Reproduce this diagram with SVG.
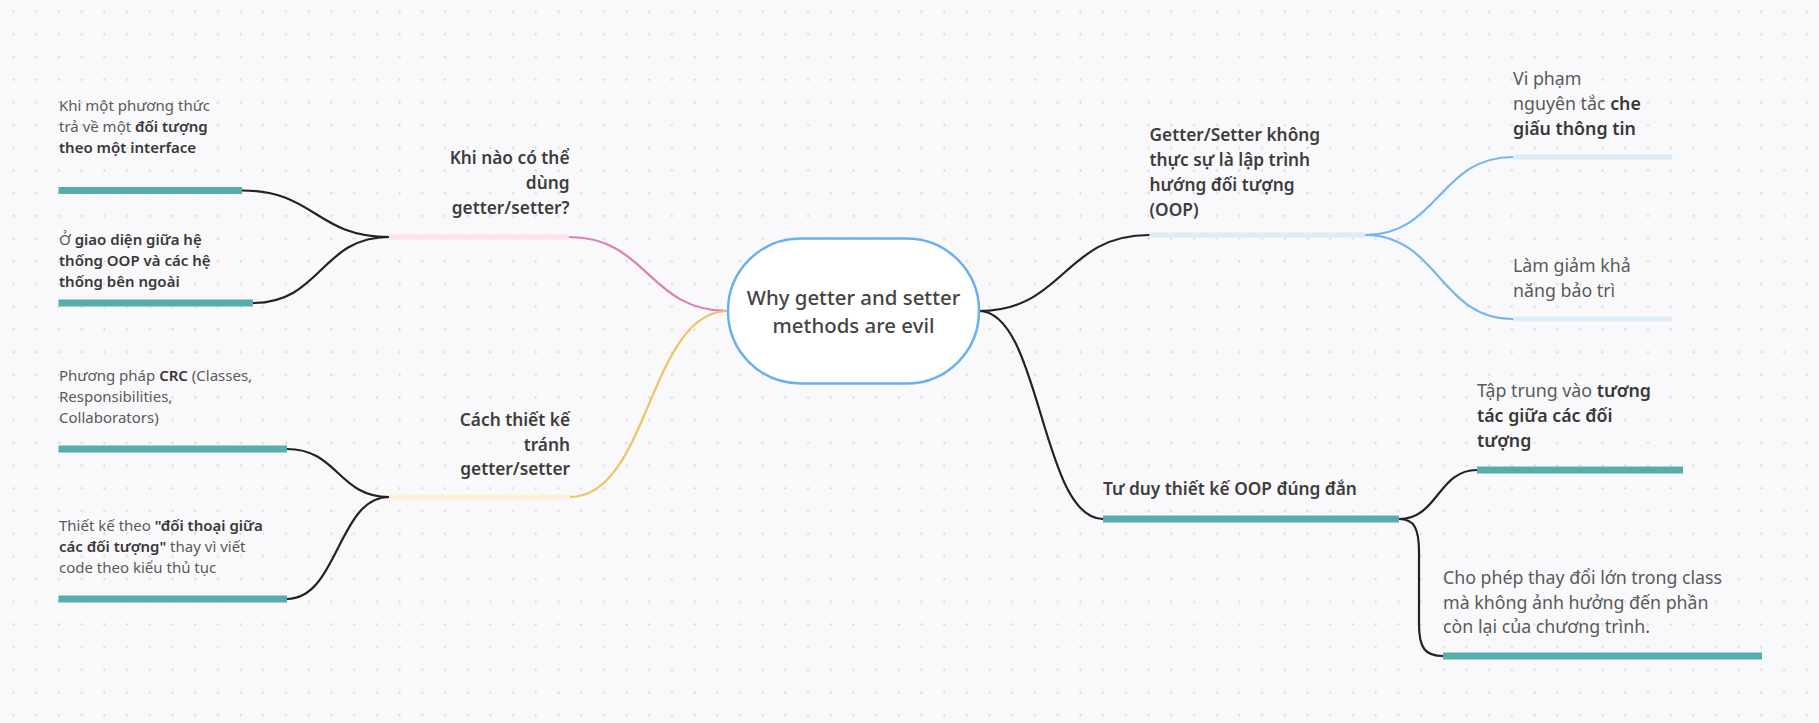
<svg xmlns="http://www.w3.org/2000/svg" width="1819" height="723" viewBox="0 0 1819 723">
<defs>
<pattern id="dots" x="2.25" y="0.25" width="22.7" height="22.7" patternUnits="userSpaceOnUse">
<circle cx="11.35" cy="11.35" r="1.15" fill="#d8d8dd"/>
</pattern>
<style>
text{font-family:"Noto Sans","Open Sans","DejaVu Sans",sans-serif;}
.title{font-size:17.3px;font-weight:600;fill:#3d3d3d;}
.body{font-size:15px;fill:#5a5a5a;}
.bodyR{font-size:17.8px;fill:#5a5a5a;}
.b{font-weight:600;fill:#383838;}
.center{font-size:20.4px;font-weight:500;fill:#444;}
.bar{stroke-width:7;fill:none;}
.teal{stroke:#57adad;}
.pinkbar{stroke:#fbe2eb;stroke-width:5;}
.yellowbar{stroke:#fdf0d9;stroke-width:5;}
.bluebar{stroke:#deecfa;stroke-width:5;}
.conn{fill:none;stroke-width:2.2;stroke-linecap:round;}
.k{stroke:#222;}
.pink{stroke:#dd80b9;}
.yellow{stroke:#efc35f;}
.blue{stroke:#75b6ec;}
</style>
</defs>
<rect width="1819" height="723" fill="#f9f9fb"/>
<rect width="1819" height="723" fill="url(#dots)"/>

<g id="connectors">
<path class="conn k" d="M242,190.5 C315,190.5 316,237 389,237"/>
<path class="conn k" d="M253,303 C321,303 321,237 389,237"/>
<path class="conn k" d="M287,449 C338,449 338,497 389,497"/>
<path class="conn k" d="M287,599 C338,599 338,497 389,497"/>
<path class="conn pink" d="M569,237 C648,237 648,311 728,311"/>
<path class="conn yellow" d="M570,497 C649,497 649,311 728,311"/>
<path class="conn k" d="M979,311 C1064,311 1064,235 1149,235"/>
<path class="conn k" d="M979,311 C1041,311 1041,519 1103,519"/>
<path class="conn blue" d="M1365,235 C1439,235 1439,157 1513,157"/>
<path class="conn blue" d="M1365,235 C1439,235 1439,319 1513,319"/>
<path class="conn k" d="M1399,519 C1438,519 1438,470 1477,470"/>
<path class="conn k" d="M1399,519 C1414,519 1419,528 1419,552 L1419,624 C1419,648 1425,656 1443,656"/>
</g>

<g id="root">
<rect x="728" y="238.5" width="251" height="145" rx="72.5" ry="72.5" fill="#fff" stroke="#6bb0ec" stroke-width="2.5"/>
<text class="center" text-anchor="middle"><tspan x="853.5" y="305">Why getter and setter</tspan><tspan x="853.5" y="333">methods are evil</tspan></text>
</g>

<g id="node-khi-nao">
<line class="bar pinkbar" x1="389" y1="237" x2="569" y2="237"/>
<text class="title" text-anchor="end"><tspan x="569.5" y="164">Khi nào có thể</tspan><tspan x="569.5" y="189">dùng</tspan><tspan x="569.5" y="214">getter/setter?</tspan></text>
</g>

<g id="node-tra-ve">
<line class="bar teal" x1="58.5" y1="190.5" x2="242" y2="190.5"/>
<text class="body"><tspan x="59" y="111">Khi một phương thức</tspan><tspan x="59" y="132">trả về một <tspan class="b">đối tượng</tspan></tspan><tspan x="59" y="153" class="b">theo một interface</tspan></text>
</g>

<g id="node-giao-dien">
<line class="bar teal" x1="58.5" y1="303" x2="253" y2="303"/>
<text class="body"><tspan x="59" y="245">Ở <tspan class="b">giao diện giữa hệ</tspan></tspan><tspan x="59" y="266" class="b">thống OOP và các hệ</tspan><tspan x="59" y="287" class="b">thống bên ngoài</tspan></text>
</g>

<g id="node-cach-thiet-ke">
<line class="bar yellowbar" x1="389" y1="497" x2="570" y2="497"/>
<text class="title" text-anchor="end"><tspan x="570" y="426">Cách thiết kế</tspan><tspan x="570" y="450.5">tránh</tspan><tspan x="570" y="475">getter/setter</tspan></text>
</g>

<g id="node-crc">
<line class="bar teal" x1="58.5" y1="449" x2="287" y2="449"/>
<text class="body"><tspan x="59" y="381">Phương pháp <tspan class="b">CRC</tspan> (Classes,</tspan><tspan x="59" y="402">Responsibilities,</tspan><tspan x="59" y="423">Collaborators)</tspan></text>
</g>

<g id="node-doi-thoai">
<line class="bar teal" x1="58.5" y1="599" x2="287" y2="599"/>
<text class="body"><tspan x="59" y="531">Thiết kế theo <tspan class="b">"đối thoại giữa</tspan></tspan><tspan x="59" y="552"><tspan class="b">các đối tượng"</tspan> thay vì viết</tspan><tspan x="59" y="573">code theo kiểu thủ tục</tspan></text>
</g>

<g id="node-khong-oop">
<line class="bar bluebar" x1="1149.5" y1="235" x2="1365" y2="235"/>
<text class="title"><tspan x="1149.5" y="141">Getter/Setter không</tspan><tspan x="1149.5" y="166">thực sự là lập trình</tspan><tspan x="1149.5" y="191">hướng đối tượng</tspan><tspan x="1149.5" y="216">(OOP)</tspan></text>
</g>

<g id="node-vi-pham">
<line class="bar bluebar" x1="1513" y1="157" x2="1672" y2="157"/>
<text class="bodyR"><tspan x="1513" y="85">Vi phạm</tspan><tspan x="1513" y="110">nguyên tắc <tspan class="b">che</tspan></tspan><tspan x="1513" y="135" class="b">giấu thông tin</tspan></text>
</g>

<g id="node-bao-tri">
<line class="bar bluebar" x1="1513" y1="319" x2="1672" y2="319"/>
<text class="bodyR"><tspan x="1513" y="272">Làm giảm khả</tspan><tspan x="1513" y="297">năng bảo trì</tspan></text>
</g>

<g id="node-tu-duy">
<line class="bar teal" x1="1103" y1="519" x2="1399" y2="519"/>
<text class="title"><tspan x="1103" y="495">Tư duy thiết kế OOP đúng đắn</tspan></text>
</g>

<g id="node-tuong-tac">
<line class="bar teal" x1="1477" y1="470" x2="1683" y2="470"/>
<text class="bodyR"><tspan x="1477" y="397">Tập trung vào <tspan class="b">tương</tspan></tspan><tspan x="1477" y="422" class="b">tác giữa các đối</tspan><tspan x="1477" y="447" class="b">tượng</tspan></text>
</g>

<g id="node-thay-doi">
<line class="bar teal" x1="1443" y1="656" x2="1762" y2="656"/>
<text class="bodyR"><tspan x="1443" y="584">Cho phép thay đổi lớn trong class</tspan><tspan x="1443" y="608.5">mà không ảnh hưởng đến phần</tspan><tspan x="1443" y="633">còn lại của chương trình.</tspan></text>
</g>
</svg>
